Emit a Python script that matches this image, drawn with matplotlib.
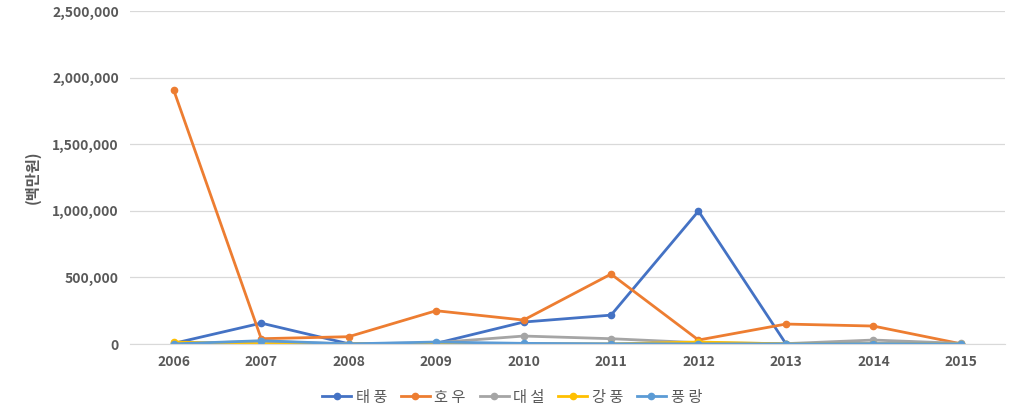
import matplotlib
matplotlib.use("Agg")
import matplotlib.pyplot as plt
from matplotlib.ticker import FuncFormatter

plt.rcParams['font.family'] = ['Noto Sans CJK KR', 'DejaVu Sans']

years = ['2006', '2007', '2008', '2009', '2010', '2011', '2012', '2013', '2014', '2015']
typhoon = [5000, 157000, 2000, 5000, 165000, 217000, 998000, 2000, 1000, 1000]
heavy_rain = [1905000, 40000, 55000, 250000, 180000, 525000, 30000, 150000, 135000, 2000]
heavy_snow = [2000, 20000, 1000, 10000, 60000, 40000, 10000, 3000, 30000, 5000]
strong_wind = [15000, 1000, 1000, 5000, 2000, 1000, 15000, 1000, 1000, 1000]
wind_wave = [1000, 25000, 1000, 15000, 5000, 2000, 1000, 1000, 2000, 1000]

names = ['태 풍', '호 우', '대 설', '강 풍', '풍 랑']
colors = ['#4472C4', '#ED7D31', '#A5A5A5', '#FFC000', '#5B9BD5']
series = [typhoon, heavy_rain, heavy_snow, strong_wind, wind_wave]

fig = plt.figure(figsize=(10.24, 4.16), dpi=100)
ax = fig.add_axes([0.127, 0.173, 0.854, 0.8006])

x = list(range(len(years)))
for vals, name, c in zip(series, names, colors):
    ax.plot(x, vals, color=c, lw=2.0, marker='o', ms=4.5, label=name)

ax.set_xlim(-0.5, len(years) - 0.5)
ax.set_ylim(0, 2500000)
ax.set_yticks(range(0, 2500001, 500000))
ax.yaxis.set_major_formatter(FuncFormatter(lambda v, p: f'{int(v):,}'))
ax.set_xticks(x)
ax.set_xticklabels(years)
ax.grid(axis='y', color='#D9D9D9', lw=0.9)
ax.set_axisbelow(True)
for s in ['top', 'right', 'left']:
    ax.spines[s].set_visible(False)
ax.spines['bottom'].set_color('#D9D9D9')
ax.tick_params(axis='both', length=0, labelsize=10, labelcolor='#595959', pad=8)
for lab in ax.get_xticklabels() + ax.get_yticklabels():
    lab.set_fontweight('bold')

ax.set_ylabel('(백만원)', fontsize=11, color='#595959', fontweight='bold', labelpad=8)

leg = fig.legend(loc='center', bbox_to_anchor=(0.5, 0.045), ncol=5, frameon=False,
                 fontsize=11, handlelength=1.9, columnspacing=0.9, handletextpad=0.3)
for t in leg.get_texts():
    t.set_color('#595959')

fig.savefig('out.png', dpi=100)
